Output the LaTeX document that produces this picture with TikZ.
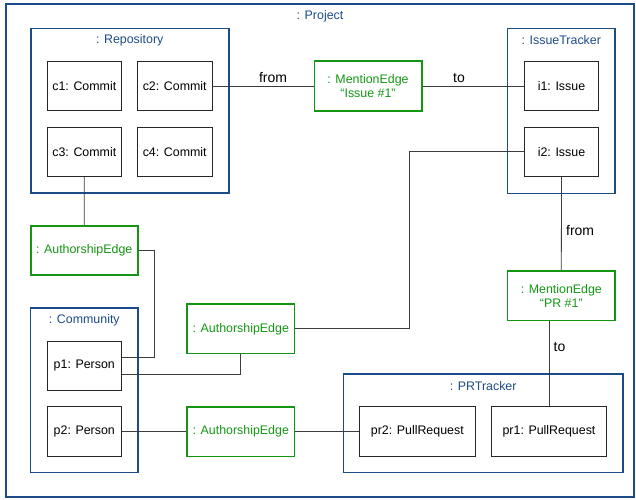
\documentclass[tikz,border=0pt]{standalone}
\usepackage{fontspec}
\setmainfont{Liberation Sans}
\usepackage{tikz}
\usetikzlibrary{calc}

\definecolor{pkgblue}{RGB}{28,75,138}
\definecolor{edgegreen}{RGB}{20,150,20}
\definecolor{wiregray}{RGB}{60,60,60}

\tikzset{
  every node/.style={font=\fontsize{12.4}{14.5}\selectfont},
  container/.style={draw=pkgblue,line width=1.6pt,inner sep=0pt},
  ctitle/.style={text=pkgblue},
  object/.style={draw=black!85,line width=0.8pt,inner sep=0pt,align=center},
  edgebox/.style={draw=edgegreen,line width=1.6pt,inner sep=0pt,align=center,text=edgegreen},
  wire/.style={draw=wiregray,line width=0.8pt},
  rolelabel/.style={font=\fontsize{14}{16}\selectfont},
}

\begin{document}
\begin{tikzpicture}[x=1pt,y=-1pt]
    \useasboundingbox (0,0) rectangle (636,499);

    % containers
    \node[container,minimum width=628pt,minimum height=493pt] (project) at (320,250.5) {};
    \node[ctitle] at (320,16) {: Project};
    \node[container,minimum width=198pt,minimum height=164.7pt] (repo) at (129.7,110.7) {};
    \node[ctitle] at (129.7,40) {: Repository};
    \node[container,minimum width=107.3pt,minimum height=165pt] (tracker) at (561.3,110.8) {};
    \node[ctitle] at (561.3,40) {: IssueTracker};
    \node[container,minimum width=107.3pt,minimum height=164.7pt] (community) at (84.3,390.3) {};
    \node[ctitle] at (84.3,320) {: Community};
    \node[container,minimum width=279.7pt,minimum height=98.7pt] (prtracker) at (483.2,423.3) {};
    \node[ctitle] at (483.2,386) {: PRTracker};

    % objects
    \node[object,minimum width=74.7pt,minimum height=49.4pt] (c1) at (84.3,86) {c1: Commit};
    \node[object,minimum width=74.7pt,minimum height=49.4pt] (c2) at (174.7,86) {c2: Commit};
    \node[object,minimum width=74.7pt,minimum height=49.4pt] (c3) at (84.3,151.7) {c3: Commit};
    \node[object,minimum width=74.7pt,minimum height=49.4pt] (c4) at (174.7,151.7) {c4: Commit};
    \node[object,minimum width=74.4pt,minimum height=49.4pt] (i1) at (561.5,86) {i1: Issue};
    \node[object,minimum width=74.4pt,minimum height=49.4pt] (i2) at (561.5,151.7) {i2: Issue};
    \node[object,minimum width=74.7pt,minimum height=49.3pt] (p1) at (84.3,365.7) {p1: Person};
    \node[object,minimum width=74.7pt,minimum height=49.6pt] (p2) at (84.3,431.5) {p2: Person};
    \node[object,minimum width=115.3pt,minimum height=49.6pt] (pr2) at (417.3,431.5) {pr2: PullRequest};
    \node[object,minimum width=115.4pt,minimum height=49.6pt] (pr1) at (549,431.5) {pr1: PullRequest};

    % edges as objects
    \node[edgebox,minimum width=107.4pt,minimum height=49.7pt] (mention1) at (368,86) {: MentionEdge\\``Issue \#1''};
    \node[edgebox,minimum width=107.3pt,minimum height=49.7pt] (mention2) at (561.3,295.8) {: MentionEdge\\``PR \#1''};
    \node[edgebox,minimum width=107pt,minimum height=49pt] (author1) at (84.2,250.5) {: AuthorshipEdge};
    \node[edgebox,minimum width=107.7pt,minimum height=49.7pt] (author2) at (240.8,328.8) {: AuthorshipEdge};
    \node[edgebox,minimum width=107.7pt,minimum height=49.6pt] (author3) at (240.8,431.5) {: AuthorshipEdge};

    % connectors
    \draw[wire] (c2.east) -- node[rolelabel,above=0pt,pos=0.6]{from} (mention1.west);
    \draw[wire] (mention1.east) -- node[rolelabel,above=0pt,pos=0.36]{to} (i1.west);
    \draw[wire] (c3.south) -- (author1.north);
    \draw[wire] (author1.east) -| (154.3,357.3) -- (p1.east |- 0,357.3);
    \draw[wire] (p1.east |- 0,374.3) -| (author2.south);
    \draw[wire] (i2.west) -| (409.3,328.8) -- (author2.east);
    \draw[wire] (i2.south) -- node[rolelabel,right=1pt,pos=0.58]{from} (mention2.north);
    \draw[wire] (mention2.south -| 549,0) -- node[rolelabel,right=1pt,pos=0.3]{to} (pr1.north);
    \draw[wire] (p2.east) -- (author3.west);
    \draw[wire] (author3.east) -- (pr2.west);
  \end{tikzpicture}
\end{document}
